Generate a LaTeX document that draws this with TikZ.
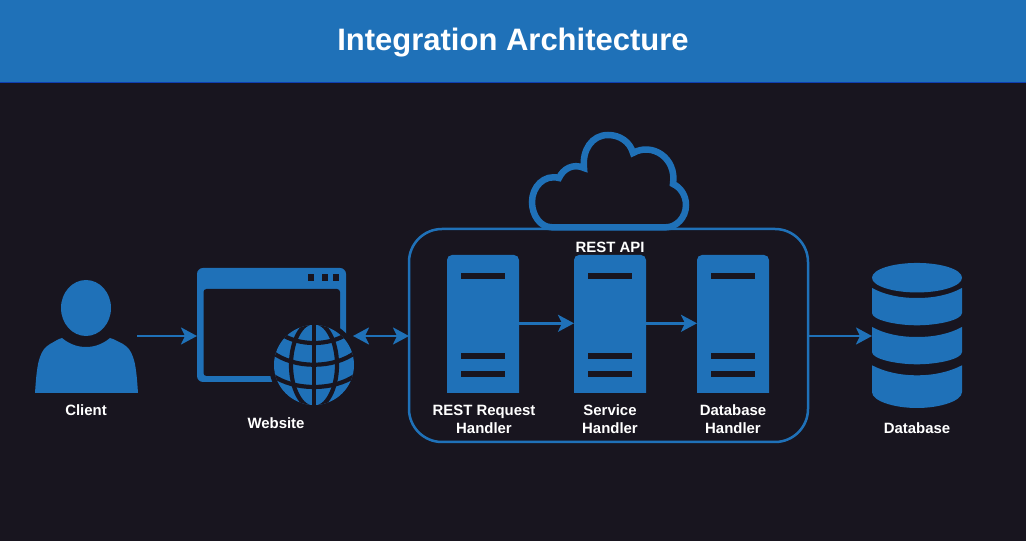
\documentclass[tikz,border=0pt]{standalone}
\usepackage{fontspec}
\setmainfont{Liberation Sans}
\usetikzlibrary{arrows.meta,shapes.geometric}
\definecolor{bgdark}{HTML}{18151F}
\definecolor{iconblue}{HTML}{1F71B8}
\definecolor{headerline}{HTML}{0F3EB0}
\def\pxu{0.75pt}
\tikzset{
  flow/.style={draw=iconblue,line width=2.5*\pxu,-{Stealth[length=16*\pxu,width=17*\pxu,inset=4*\pxu]}},
  flowboth/.style={draw=iconblue,line width=2.5*\pxu,{Stealth[length=16*\pxu,width=17*\pxu,inset=4*\pxu]}-{Stealth[length=16*\pxu,width=17*\pxu,inset=4*\pxu]}},
  lbl/.style={text=white,font=\bfseries\fontsize{11.2pt}{13.5pt}\selectfont,align=center,inner sep=0pt},
  anchorbox/.style={rectangle,draw=none,inner sep=0pt,outer sep=0pt,minimum width=#1},
  slot/.style={fill=bgdark},
  globeline/.style={draw=bgdark,line width=4.2*\pxu},
}
\begin{document}
\begin{tikzpicture}[x=0.75pt,y=-0.75pt]
\useasboundingbox (0,0) rectangle (1026,541);
\fill[bgdark] (0,0) rectangle (1026,541);
\fill[iconblue] (0,0) rectangle (1026,82);
\fill[headerline] (0,82) rectangle (1026,83.5);
\node[text=white,font=\bfseries\fontsize{23.25pt}{27pt}\selectfont,inner sep=0pt] (title) at (513,43) {Integration Architecture};

% Client
\node[ellipse,fill=iconblue,inner sep=0pt,minimum width=50*\pxu,minimum height=56*\pxu] (head) at (86,308) {};
\fill[iconblue] (35,393) .. controls (36,378) and (37,365) .. (40,357) .. controls (42,351) and (45,347) .. (50,344)
  .. controls (54,342) and (58,339) .. (62,338) .. controls (68,343) and (76,347) .. (86,347) .. controls (96,347) and (104,343) .. (110,338)
  .. controls (114,339) and (119,342) .. (123,344) .. controls (128,347) and (131,351) .. (133,357) .. controls (136,365) and (137,378) .. (138,393) -- cycle;
\node[lbl] (clientlabel) at (86,410) {Client};

% Browser
\node[anchorbox=149*\pxu,minimum height=114*\pxu] (browser) at (271.5,325) {};
\fill[iconblue,rounded corners=6*\pxu] (197,268) rectangle (346,382);
\fill[bgdark,rounded corners=3*\pxu] (203.5,289) -- (203.5,376) -- (340,376) -- (340,289) -- cycle;
\foreach \bx in {308,321.5,333} \fill[bgdark] (\bx,274) rectangle +(6,7);

% Globe
\node[circle,fill=bgdark,inner sep=0pt,minimum size=90*\pxu] (globehalo) at (314,365) {};
\node[circle,fill=iconblue,inner sep=0pt,minimum size=80*\pxu] (globe) at (314,365) {};
\begin{scope}[shift={(314,365)}]
  \clip (0,0) circle[radius=40];
  \draw[globeline] (0,-42) -- (0,42);
  \draw[globeline] (0,0) ellipse[x radius=23,y radius=43];
  \draw[globeline] (-33,-31) .. controls (-15,-19) and (15,-19) .. (33,-31);
  \draw[globeline] (-42,-13) .. controls (-20,4) and (20,4) .. (42,-13);
  \draw[globeline] (-42,10) .. controls (-20,26) and (20,26) .. (42,10);
\end{scope}
\node[lbl] (websitelabel) at (276,423) {Website};

% REST API
\node[anchorbox=399*\pxu,minimum height=213*\pxu,draw=iconblue,line width=2.5*\pxu,rounded corners=33*\pxu] (rest) at (608.5,335.5) {};
\draw[iconblue,line width=6.5*\pxu,line join=miter] (552,227.3)
  .. controls (540,227.3) and (532,215) .. (532,202)
  .. controls (532,187) and (544,174) .. (559,178)
  .. controls (563,169) and (573,163) .. (584,168)
  .. controls (582,150) and (592,135) .. (608,135)
  .. controls (620,135) and (630,142) .. (633,153)
  .. controls (652,142) and (677,158) .. (673,184)
  .. controls (680,187) and (686,195) .. (686,205)
  .. controls (686,218) and (676,227.3) .. (666,227.3) -- cycle;
\node[lbl] (restlabel) at (610,247) {REST API};

% Servers
\foreach \n/\sx in {req/483,svc/610,dbh/733}{
  \node[anchorbox=72*\pxu,minimum height=138*\pxu] (\n) at (\sx,324) {};
  \fill[iconblue] (\n.south west) [rounded corners=5*\pxu] -- (\n.north west) -- (\n.north east) [sharp corners] -- (\n.south east) -- cycle;
  \foreach \sy in {273,353.5,371}
    \fill[slot] (\sx-22,\sy) rectangle (\sx+22,\sy+6);
}
\node[lbl] (reqlabel) at (484,419) {REST Request\\Handler};
\node[lbl] (svclabel) at (610,419) {Service\\Handler};
\node[lbl] (dbhlabel) at (733,419) {Database\\Handler};

% Database
\node[anchorbox=90*\pxu,minimum height=145*\pxu] (db) at (917,335.5) {};
\node[ellipse,fill=iconblue,inner sep=0pt,minimum width=90*\pxu,minimum height=29.5*\pxu] (dbtop) at (917,277.7) {};
\foreach \dy in {0,39}{
  \fill[iconblue,shift={(0,\dy)}] (872,288) .. controls (885,295) and (900,298) .. (917,298)
    .. controls (934,298) and (949,295) .. (962,288) -- (962,313)
    .. controls (962,320) and (938,325.3) .. (917,325.3)
    .. controls (896,325.3) and (872,320) .. (872,313) -- cycle;
}
\fill[iconblue] (872,365.3) .. controls (885,372) and (900,375.3) .. (917,375.3)
    .. controls (934,375.3) and (949,372) .. (962,365.3) -- (962,392)
    .. controls (962,401) and (940,408) .. (917,408)
    .. controls (894,408) and (872,401) .. (872,392) -- cycle;
\node[lbl] (dblabel) at (917,428) {Database};

% Connectors
\coordinate (clientout) at (137,336);
\coordinate (webout) at (353,336);
\coordinate (rowlevel) at (0,323.3);
\draw[flow] (clientout) -- (browser.west |- clientout);
\draw[flowboth] (webout) -- (rest.west |- webout);
\draw[flow] (req.east |- rowlevel) -- (svc.west |- rowlevel);
\draw[flow] (svc.east |- rowlevel) -- (dbh.west |- rowlevel);
\draw[flow] (rest.east |- clientout) -- (db.west |- clientout);
\end{tikzpicture}
\end{document}
